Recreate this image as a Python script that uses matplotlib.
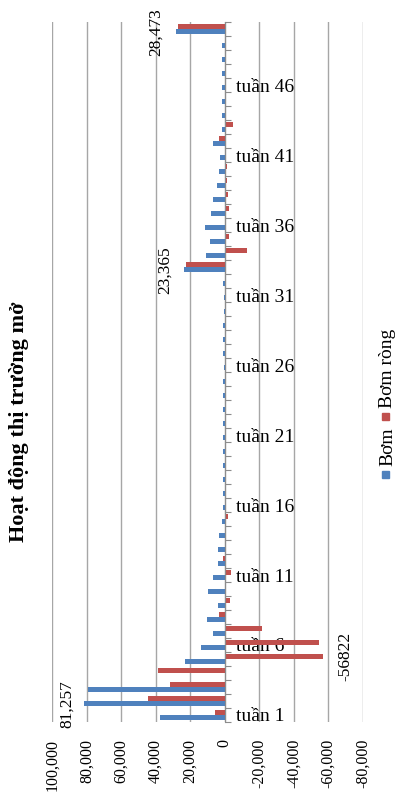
import matplotlib
matplotlib.use("Agg")
import matplotlib.pyplot as plt
from matplotlib.patches import Rectangle
import numpy as np

plt.rcParams['font.family'] = ['Liberation Serif', 'DejaVu Serif']

# weekly open market operations (weeks 1..50)
weeks = list(range(1, 51))
bom = [37700, 81257, 79000, 0, 23200, 13900, 6600, 10400, 4200, 10000,
       6600, 4200, 4200, 3600, 1400, 1300, 1200, 1200, 1000, 1200,
       1200, 800, 1000, 900, 1000, 600, 1200, 800, 1000, 600,
       700, 1000, 23365, 11000, 8500, 11600, 8000, 6600, 4600, 3300,
       2700, 6600, 1700, 1500, 1500, 1500, 1500, 1500, 1500, 28473]
bom_rong = [5800, 44600, 31900, 38800, -56822, -54700, -21300, 3300, -3100, 0,
            -3500, 1200, 0, 0, -1700, 0, 0, 0, 0, 0,
            0, 0, 0, -400, 0, 0, 0, 0, 0, 0,
            0, 0, 22500, -12800, -2500, 0, -2500, -2100, -1200, -1200,
            0, 3600, -4800, 0, 0, 0, 0, 0, 0, 26800]
label_weeks = [1, 6, 11, 16, 21, 26, 31, 36, 41, 46]
value_ticks = [100000, 80000, 60000, 40000, 20000, 0, -20000, -40000, -60000, -80000]

blue = '#4F81BD'
red = '#C0504D'

fig = plt.figure(figsize=(4.0, 7.94), dpi=100)
ax = fig.add_axes([0.13, 0.0907, 0.7775, 0.8815])

y = np.array(weeks)
ax.barh(y - 0.19, bom, height=0.34, color=blue, zorder=3)
ax.barh(y + 0.19, bom_rong, height=0.34, color=red, zorder=3)

ax.set_xlim(100000, -80000)
ax.set_ylim(0.5, 50.5)

ax.set_xticks(value_ticks)
ax.set_xticklabels([f"{v:,}" for v in value_ticks], rotation=90, fontsize=11.5)
ax.tick_params(axis='x', length=0, pad=12)
ax.xaxis.grid(True, color='#A6A6A6', lw=1.0, zorder=0)

for s in ['top', 'bottom', 'left']:
    ax.spines[s].set_visible(False)
ax.spines['right'].set_position(('data', 0))
ax.spines['right'].set_color('#8C8C8C')
ax.spines['right'].set_zorder(4)
ax.yaxis.tick_right()
ax.set_yticks(np.arange(0.5, 51, 1))
ax.set_yticklabels([])
ax.tick_params(axis='y', which='major', length=4, color='#8C8C8C', direction='out')
ax.set_yticks(label_weeks, minor=True)
ax.set_yticklabels([f"tuần {w}" for w in label_weeks], minor=True, fontsize=14)
ax.tick_params(axis='y', which='minor', length=0, pad=8)

# data labels
ax.annotate(f"{bom[1]:,}", (bom[1], 2 - 0.19), xytext=(-17, 0), textcoords='offset pixels',
            rotation=90, ha='center', va='center', fontsize=12.5)
ax.annotate(f"{bom[32]:,}", (bom[32], 33 - 0.19), xytext=(-20, 0), textcoords='offset pixels',
            rotation=90, ha='center', va='center', fontsize=12.5)
ax.annotate(f"{bom[49]:,}", (bom[49], 50 - 0.19), xytext=(-20, 0), textcoords='offset pixels',
            rotation=90, ha='center', va='center', fontsize=12.5)
ax.annotate(str(bom_rong[4]), (bom_rong[4], 5 + 0.19), xytext=(22, 0), textcoords='offset pixels',
            rotation=90, ha='center', va='center', fontsize=12.5)

# title
fig.text(19 / 400, 1 - 422 / 794, "Hoạt động thị trường mở", rotation=90,
         ha='center', va='center', fontsize=16, fontweight='bold')

# legend (rotated)
W, H = 400, 794
sq = 7
fig.patches.append(Rectangle(((385 - sq / 2) / W, 1 - 478 / H), sq / W, sq / H,
                             transform=fig.transFigure, color=blue, figure=fig))
fig.text(388 / W, 1 - 466 / H, "Bơm", rotation=90, ha='center', va='bottom', fontsize=14)
fig.patches.append(Rectangle(((385 - sq / 2) / W, 1 - 420 / H), sq / W, sq / H,
                             transform=fig.transFigure, color=red, figure=fig))
fig.text(388 / W, 1 - 408 / H, "Bơm ròng", rotation=90, ha='center', va='bottom', fontsize=14)

fig.savefig('out.png', dpi=100)
